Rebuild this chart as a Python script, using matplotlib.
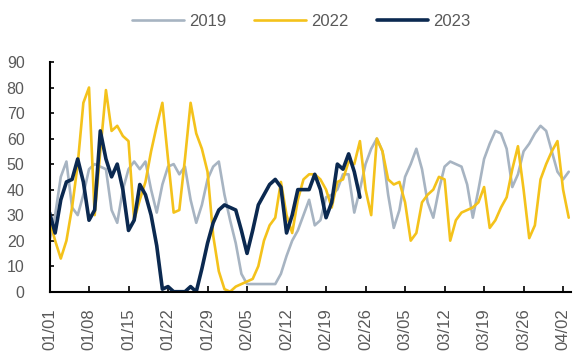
import matplotlib
matplotlib.use("Agg")
import matplotlib.pyplot as plt
import numpy as np

plt.rcParams['font.family'] = ['Liberation Sans', 'DejaVu Sans']

tick_labels = ["01/01", "01/08", "01/15", "01/22", "01/29", "02/05", "02/12",
               "02/19", "02/26", "03/05", "03/12", "03/19", "03/26", "04/02"]

s2019 = [20, 30, 45, 51, 33, 30, 38, 48, 50, 49, 48, 32, 27, 40, 48, 51, 48, 51, 40, 31,
         42, 49, 50, 46, 49, 36, 27, 34, 44, 49, 51, 38, 28, 19, 7, 3, 3, 3, 3, 3,
         3, 7, 14, 20, 24, 30, 36, 26, 28, 37, 38, 40, 46, 46, 31, 40, 50, 56, 60, 55,
         38, 25, 32, 45, 50, 56, 48, 35, 29, 40, 49, 51, 50, 49, 42, 29, 40, 52, 58, 63,
         62, 56, 41, 46, 55, 58, 62, 65, 63, 55, 47, 44, 47]

s2022 = [28, 20, 13, 20, 33, 50, 74, 80, 30, 55, 79, 63, 65, 61, 59, 28, 36, 43, 55, 65,
         74, 52, 31, 32, 52, 74, 62, 56, 47, 22, 8, 1, 0, 2, 3, 4, 5, 10, 20, 26,
         29, 43, 30, 23, 36, 44, 46, 46, 44, 40, 33, 43, 44, 51, 50, 59, 40, 30, 60, 55,
         44, 42, 43, 35, 20, 23, 35, 38, 40, 45, 44, 20, 28, 31, 32, 33, 35, 41, 25, 28,
         33, 37, 48, 57, 40, 21, 26, 44, 50, 55, 59, 40, 29]

s2023 = [31, 23, 36, 43, 44, 52, 43, 28, 32, 63, 52, 45, 50, 40, 24, 28, 42, 38, 30, 18,
         1, 2, 0, 0, 0, 2, 0, 9, 19, 27, 32, 34, 33, 32, 24, 15, 24, 34, 38, 42,
         44, 41, 23, 30, 40, 40, 40, 46, 40, 29, 35, 50, 48, 54, 47, 37]

series_names = ["2019", "2022", "2023"]
colors = ["#A7B4C2", "#F4C21B", "#0B2950"]
widths = [1.9, 1.9, 2.6]

fig = plt.figure(figsize=(5.73, 3.51), dpi=100)
ax = fig.add_axes([49.5 / 573, 1 - 291.7 / 351, (571 - 49.5) / 573, (291.7 - 62) / 351])

for name, data, c, lw in zip(series_names, [s2019, s2022, s2023], colors, widths):
    ax.plot(np.arange(len(data)), data, color=c, lw=lw, label=name,
            solid_joinstyle='round', solid_capstyle='round')

ax.set_xlim(0, 92.4)
ax.set_ylim(0, 90)
ax.set_yticks(np.arange(0, 91, 10))
ax.set_xticks(np.arange(len(tick_labels)) * 7)
ax.set_xticklabels(tick_labels, rotation=90)

for side in ["top", "right"]:
    ax.spines[side].set_visible(False)
for side in ["left", "bottom"]:
    ax.spines[side].set_color("black")
    ax.spines[side].set_linewidth(1.5)

ax.tick_params(axis='x', direction='in', length=4, width=1.2, pad=12,
               labelsize=12, labelcolor="#595959")
ax.tick_params(axis='y', direction='in', length=3, width=1.2, pad=18,
               labelsize=11.5, labelcolor="#595959")

fig.legend(loc='center', bbox_to_anchor=(0.526, 0.938), ncol=3, frameon=False,
           handlelength=3.1, handletextpad=0.3, columnspacing=1.7,
           prop={'size': 12}, labelcolor="#595959")

fig.savefig("out.png", dpi=100)
